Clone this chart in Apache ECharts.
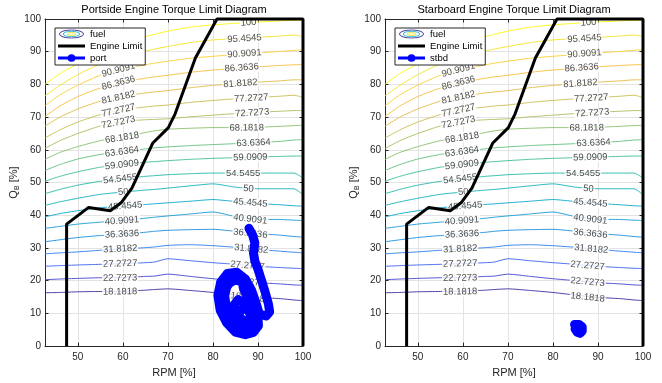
<!DOCTYPE html>
<html><head><meta charset="utf-8">
<script src="https://cdn.jsdelivr.net/npm/echarts@6/dist/echarts.min.js"></script>
<style>html,body{margin:0;padding:0;background:#fff}#c{width:662px;height:383px}</style>
</head><body><div id="c"></div>
<script>
// ---------- data ----------
const contourX = [42.7, 46, 50, 55, 60, 65, 67, 70, 75, 80, 85, 90, 95, 98, 100];
const levelNames = ['18.1818','22.7273','27.2727','31.8182','36.3636','40.9091','45.4545','50','54.5455','59.0909','63.6364','68.1818','72.7273','77.2727','81.8182','86.3636','90.9091','95.4545','100'];
const q18  = [16.3, 16.4, 16.6, 16.7, 16.8, 17.1, 17.3, 17.5, 17.0, 16.4, 15.6, 14.9, 14.5, 14.1, 13.9];
const q22  = [20.3, 20.5, 20.7, 20.9, 21.0, 21.3, 21.4, 22.0, 21.3, 20.6, 20.0, 19.4, 19.0, 18.7, 18.6];
const q27  = [24.4, 24.6, 24.8, 25.0, 25.2, 25.5, 25.7, 26.7, 26.1, 25.5, 25.0, 24.4, 24.0, 23.8, 23.7];
const q31  = [28.2, 28.5, 28.8, 29.3, 29.7, 30.1, 30.3, 30.8, 31.0, 30.7, 30.2, 29.6, 29.0, 28.7, 28.5];
const q36  = [31.9, 32.5, 33.2, 33.8, 34.2, 34.8, 35.1, 35.4, 35.6, 35.7, 35.1, 34.4, 33.9, 33.5, 33.3];
const q40  = [36.0, 36.6, 37.3, 37.9, 38.4, 39.1, 39.4, 39.8, 40.4, 41.0, 39.6, 38.8, 38.7, 38.5, 38.4];
const q45  = [39.5, 40.5, 41.4, 42.3, 42.8, 43.3, 43.5, 43.8, 44.3, 44.8, 44.2, 43.6, 43.2, 42.9, 42.8];
const q50  = [43.0, 44.1, 45.2, 46.4, 47.1, 47.7, 47.9, 48.3, 49.0, 49.6, 48.6, 48.1, 48.1, 48.1, 46.3];
const q54  = [46.6, 47.9, 49.2, 50.4, 51.2, 51.9, 52.1, 52.4, 52.7, 52.9, 52.9, 52.9, 52.9, 52.9, 51.4];
const q59  = [50.4, 51.9, 53.3, 54.7, 55.5, 56.2, 56.4, 56.7, 57.1, 57.4, 57.6, 57.8, 58.0, 58.1, 58.1];
const q63  = [53.7, 55.5, 57.2, 58.6, 59.5, 60.3, 60.6, 60.9, 61.3, 61.6, 61.9, 62.2, 62.6, 63.0, 63.1];
const q68  = [57.1, 59.2, 61.0, 62.8, 63.9, 65.3, 65.8, 66.3, 66.6, 66.8, 66.8, 66.9, 67.2, 67.4, 67.5];
const q72  = [60.4, 62.8, 65.0, 67.3, 68.7, 69.2, 69.3, 69.5, 70.1, 70.6, 71.1, 71.5, 71.8, 72.0, 72.0];
const q77  = [63.6, 66.1, 68.5, 70.8, 72.3, 73.1, 73.4, 73.7, 74.5, 75.1, 75.6, 76.0, 76.4, 76.7, 76.0];
const q81  = [67.2, 70.0, 72.5, 74.9, 76.4, 77.4, 77.7, 78.1, 79.0, 79.7, 80.2, 80.7, 81.1, 81.4, 81.4];
const q86  = [70.2, 73.4, 76.3, 78.9, 80.7, 81.9, 82.3, 82.8, 83.7, 84.4, 84.9, 85.4, 85.8, 86.0, 86.1];
const q90  = [73.5, 76.8, 79.8, 82.8, 84.6, 86.0, 86.5, 87.1, 88.0, 88.6, 89.1, 89.6, 90.1, 90.4, 90.6];
const q95  = [76.5, 79.7, 83.0, 86.3, 88.5, 90.2, 90.8, 91.6, 92.8, 93.6, 94.0, 94.4, 94.8, 95.1, 94.6];
const q100 = [80.0, 83.3, 86.3, 89.8, 92.5, 94.6, 95.3, 96.3, 97.5, 98.2, 98.7, 99.1, 99.4, 99.6, 99.6];
const contourY = [q18,q22,q27,q31,q36,q40,q45,q50,q54,q59,q63,q68,q72,q77,q81,q86,q90,q95,q100];

const leftLabelX  = [59.4, 59.4, 59.4, 59.4, 59.8, 59.8, 60.5, 60.1, 59.4, 59.8, 59.8, 59.8, 59.0, 59.0, 59.0, 59.0, 59.0, 59.5, 58.0];
const leftLabelY  = [16.6, 20.8, 25.2, 29.7, 34.2, 38.3, 42.8, 47.1, 51.1, 55.4, 59.4, 63.7, 68.4, 72.0, 76.0, 80.4, 84.4, 88.2, 92.0];
const rightLabelX = [87.7, 87.7, 87.7, 88.5, 88.3, 88.3, 88.3, 87.9, 86.7, 88.3, 89.0, 87.5, 88.7, 88.5, 86.1, 86.4, 87.0, 87.0, 87.9];
const rightLabelY = [14.9, 19.6, 24.6, 29.7, 34.4, 38.8, 43.8, 48.1, 52.9, 57.7, 62.1, 66.7, 71.3, 75.8, 80.3, 85.1, 89.4, 94.0, 98.9];

const engineRPM = [47.5, 47.5, 52.4, 57.2, 59.6, 62.0, 66.6, 70.1, 71.6, 76.1, 80.9, 100, 100];
const engineQ   = [0, 37.3, 42.4, 41.4, 43.8, 48.3, 62.0, 66.8, 71.0, 88.1, 100, 100, 0];

const portRPM = [88.0,88.8,89.3,89.0,89.3,90.0,90.8,91.6,92.3,92.6,91.8,90.3,
  89.6,88.6,87.2,85.3,83.2,81.7,81.1,81.6,83.0,85.0,87.2,89.0,90.1,90.0,
  89.0,87.6,86.8,86.5,84.8,83.2,82.6,83.0,84.2,86.0,88.0,89.2,
  88.6,87.3,85.6,84.6,84.8,86.2,87.8,88.4,87.5,86.0,85.8,
  84.3,82.8,82.3,83.0,84.6,86.6,88.2,89.3,89.4,88.4,87.0,86.3];
const portQ = [36.0,34.0,31.5,28.5,26.0,23.5,20.0,16.5,13.0,10.5,9.2,9.8,
  13.0,17.0,20.5,22.6,22.2,19.5,15.5,11.0,7.2,4.3,3.5,4.2,6.2,9.0,
  12.5,15.0,17.5,19.8,20.2,18.8,15.5,11.5,8.0,5.8,5.6,7.5,
  11.0,13.0,14.2,12.5,9.5,7.3,7.5,9.5,11.5,11.0,8.8,
  5.5,9.0,14.0,18.0,21.0,20.8,17.0,12.0,7.5,4.6,5.0,8.5];

const stbdRPM = [84.8,85.8,86.5,86.5,86.0,85.4,84.9,85.2,85.9,86.3,85.9];
const stbdQ   = [6.6,6.6,5.9,4.6,3.9,4.2,5.3,6.2,6.0,5.1,4.3];

const xTicks = [50, 60, 70, 80, 90, 100];
const titles = ['Portside Engine Torque Limit Diagram', 'Starboard Engine Torque Limit Diagram'];
const dataNames = ['port', 'stbd'];

// ---------- styles ----------
const FONT = '"Liberation Sans", Arial, Helvetica, sans-serif';
const contourColors = ['#3e2d9e','#4343cf','#3a62ef','#2a7cf0','#1a8ce0','#139bd6','#0aa7c9','#13b2ba','#25b9a8','#3fbe93','#62c07d','#87c06a','#a9be5c','#c8bc4e','#e2bb44','#f7bd3a','#fccd30','#f3e224','#f9f80f'];
const grids = [{left:45, top:19, width:258, height:331}, {left:385, top:19, width:258, height:331}];

function svgIcon(s){ return 'image://data:image/svg+xml;charset=utf-8,' + encodeURIComponent(s); }
const fuelIcon = svgIcon('<svg xmlns="http://www.w3.org/2000/svg" width="28" height="10" viewBox="0 0 28 10"><ellipse cx="14" cy="5" rx="12.5" ry="4.2" fill="none" stroke="#3e2d9e" stroke-width="1"/><ellipse cx="14" cy="5" rx="8.5" ry="2.8" fill="none" stroke="#25b9c8" stroke-width="1"/><ellipse cx="14" cy="5" rx="4.5" ry="1.4" fill="none" stroke="#e8e020" stroke-width="1"/></svg>');
const engIcon = svgIcon('<svg xmlns="http://www.w3.org/2000/svg" width="28" height="10" viewBox="0 0 28 10"><line x1="0" y1="5" x2="28" y2="5" stroke="#000" stroke-width="3"/></svg>');
const dataIcon = svgIcon('<svg xmlns="http://www.w3.org/2000/svg" width="28" height="10" viewBox="0 0 28 10"><line x1="0" y1="5" x2="28" y2="5" stroke="#0000ff" stroke-width="3"/><circle cx="14" cy="5" r="4" fill="#0000ff"/></svg>');

const xAxes = [], yAxes = [], series = [], legends = [], titleOpts = [];
grids.forEach((g, gi) => {
  const axisCommon = {gridIndex: gi, type: 'value',
    axisLine: {show: true, onZero: false, lineStyle: {color: '#262626', width: 1}},
    axisTick: {show: true, inside: true, length: 3.5, lineStyle: {color: '#262626'}}};
  xAxes.push(Object.assign({}, axisCommon, {min: 42.7, max: 100, splitNumber: 5, position: 'bottom',
    axisTick: {show: true, inside: true, length: 3.5, customValues: xTicks, lineStyle: {color: '#262626'}},
    axisLabel: {customValues: xTicks, margin: 6, fontSize: 10, color: '#262626', fontFamily: FONT},
    splitLine: {show: true, lineStyle: {color: '#e3e3e3', width: 1}},
    name: 'RPM [%]', nameLocation: 'middle', nameGap: 20,
    nameTextStyle: {fontSize: 11, color: '#262626', fontFamily: FONT}}));
  xAxes.push(Object.assign({}, axisCommon, {min: 42.7, max: 100, position: 'top',
    axisTick: {show: true, inside: true, length: 3.5, customValues: xTicks, lineStyle: {color: '#262626'}},
    axisLabel: {show: false}, splitLine: {show: false}}));
  yAxes.push(Object.assign({}, axisCommon, {min: 0, max: 100, interval: 10, position: 'left',
    axisLabel: {margin: 4, fontSize: 10, color: '#262626', fontFamily: FONT},
    splitLine: {show: true, lineStyle: {color: '#e3e3e3', width: 1}},
    name: '{q|Q}{s|B}{q| [%]}', nameLocation: 'middle', nameGap: 23,
    nameTextStyle: {color: '#262626', fontFamily: FONT,
      rich: {q: {fontSize: 11, color: '#262626', fontFamily: FONT},
             s: {fontSize: 7, color: '#262626', fontFamily: FONT, padding: [5, 0, 0, 0]}}}}));
  yAxes.push(Object.assign({}, axisCommon, {min: 0, max: 100, interval: 10, position: 'right',
    axisLabel: {show: false}, splitLine: {show: false}}));

  titleOpts.push({text: titles[gi], left: g.left + g.width / 2, top: 4, textAlign: 'center',
    padding: 0, textStyle: {fontSize: 11, fontWeight: 'normal', color: '#000', fontFamily: FONT}});

  legends.push({left: g.left + 10, top: 28, orient: 'vertical', selectedMode: false,
    data: [{name: 'fuel', icon: fuelIcon}, {name: 'Engine Limit', icon: engIcon}, {name: dataNames[gi], icon: dataIcon}],
    itemWidth: 27, itemHeight: 10, itemGap: 2, padding: [1, 3, 2, 3],
    backgroundColor: '#fff', borderColor: '#262626', borderWidth: 1, z: 20,
    textStyle: {fontSize: 9.5, color: '#000', fontFamily: FONT}});

  const xi = gi * 2, yi = gi * 2;
  contourY.forEach((ys, li) => {
    series.push({type: 'line', name: 'fuel', xAxisIndex: xi, yAxisIndex: yi,
      data: contourX.map((x, k) => [x, ys[k]]), symbol: 'none', showSymbol: false,
      smooth: 0.2, lineStyle: {color: contourColors[li], width: 0.9}, itemStyle: {color: contourColors[li]},
      z: 2, silent: true});
  });
  const lblData = [];
  levelNames.forEach((nm, li) => {
    lblData.push({name: nm, value: [leftLabelX[li], leftLabelY[li]]});
    lblData.push({name: nm, value: [rightLabelX[li], rightLabelY[li]]});
  });
  series.push({id: 'lbl' + gi, type: 'scatter', name: 'labels', xAxisIndex: xi, yAxisIndex: yi,
    data: lblData, symbolSize: 1, itemStyle: {color: 'rgba(0,0,0,0)'}, z: 3, silent: true,
    label: {show: true, position: 'inside', formatter: p => p.name, fontSize: 9.5, color: '#1a1a1a',
      fontFamily: FONT, backgroundColor: '#fff', padding: [0, 1]}});
  series.push({type: 'line', name: 'Engine Limit', xAxisIndex: xi, yAxisIndex: yi,
    data: engineRPM.map((x, k) => [x, engineQ[k]]), symbol: 'none', clip: false,
    lineStyle: {color: '#000', width: 3}, itemStyle: {color: '#000'}, z: 4, silent: true});
  const rx = gi === 0 ? portRPM : stbdRPM, ry = gi === 0 ? portQ : stbdQ;
  series.push({type: 'line', name: dataNames[gi], xAxisIndex: xi, yAxisIndex: yi,
    data: rx.map((x, k) => [x, ry[k]]), symbol: 'none',
    lineStyle: {color: '#0000ff', width: 9, cap: 'round', join: 'round'}, itemStyle: {color: '#0000ff'},
    z: 5, silent: true});
});

const chart = echarts.init(document.getElementById('c'));
chart.setOption({animation: false, backgroundColor: '#fff', title: titleOpts, legend: legends,
  grid: grids, xAxis: xAxes, yAxis: yAxes, series: series});

// rotate contour labels along the local slope of their contour
function angleAt(gi, li, lx) {
  const xs = contourX, ys = contourY[li];
  let j = 0;
  while (j < xs.length - 2 && xs[j + 1] < lx) j++;
  const p1 = chart.convertToPixel({gridIndex: gi}, [xs[j], ys[j]]);
  const p2 = chart.convertToPixel({gridIndex: gi}, [xs[j + 1], ys[j + 1]]);
  return Math.atan2(p1[1] - p2[1], p2[0] - p1[0]) * 180 / Math.PI;
}
const upd = [];
[0, 1].forEach(gi => {
  const d = [];
  levelNames.forEach((nm, li) => {
    d.push({name: nm, value: [leftLabelX[li], leftLabelY[li]], label: {rotate: angleAt(gi, li, leftLabelX[li])}});
    d.push({name: nm, value: [rightLabelX[li], rightLabelY[li]], label: {rotate: angleAt(gi, li, rightLabelX[li])}});
  });
  upd.push({id: 'lbl' + gi, data: d});
});
chart.setOption({series: upd});
</script></body></html>
